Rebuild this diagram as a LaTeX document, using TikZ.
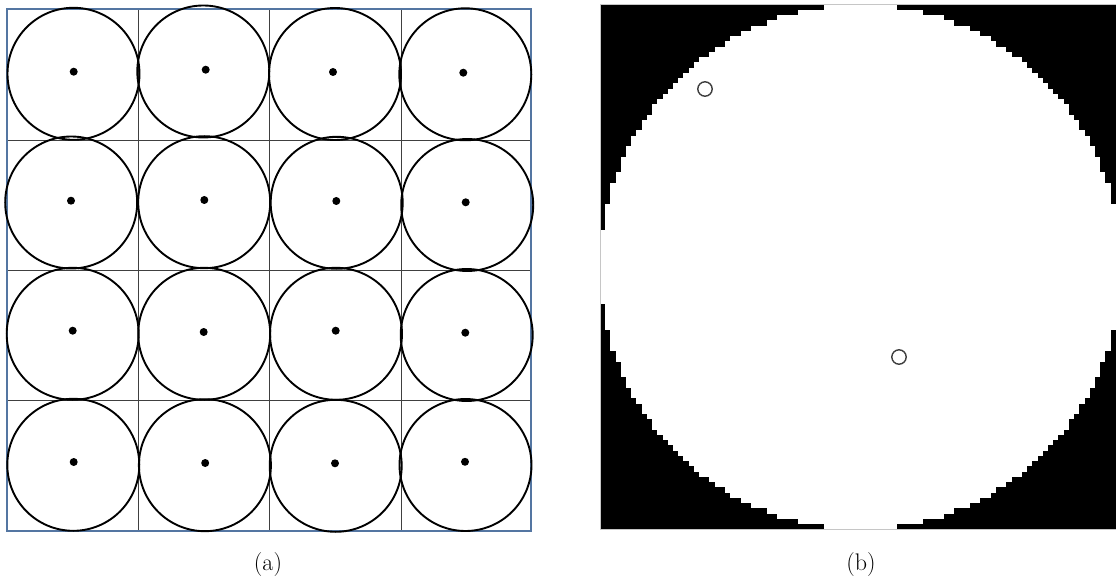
\documentclass[tikz,border=0pt]{standalone}
\begin{document}
\begin{tikzpicture}[x=1pt,y=-1pt,
  frame/.style={draw={rgb,255:red,84;green,118;blue,162}, line width=1.6pt},
  gridline/.style={draw=black!75, line width=1pt},
  ring/.style={draw=black, line width=1.9pt},
  dotm/.style={fill=black},
  hole/.style={draw=black!75, line width=1.4pt, fill=white},
  border/.style={draw=gray!45, line width=1pt},
  lab/.style={font=\fontsize{24}{29}\selectfont, inner sep=0pt}]
\clip (0,0) rectangle (1116,580);
\fill[white] (0,0) rectangle (1116,580);
% ---------- panel (a) ----------
\foreach \x in {138.5,269.7,401.5} \draw[gridline] (\x,9) -- (\x,531);
\foreach \y in {140.8,270.7,400.5} \draw[gridline] (7,\y) -- (531,\y);
\draw[frame] (7,9) rectangle (531,531);
\foreach \cx/\cy/\dx/\dy in {73.5/73.8/73.7/71.7, 203.3/71.5/205.7/69.7, 335/74/333/72, 465.3/74.3/463.3/72.7,
  71.2/202.5/71/200.7, 204.2/202.2/204.3/200, 336.7/202.8/336.3/201, 467.2/205/465.7/202.3,
  72.7/333.8/72.7/330.7, 204.2/333.8/203.7/332, 336/333.8/335.7/330.7, 466.7/335/465.3/332.7,
  73.3/464.8/73.7/462, 204.9/465.2/205.2/463, 335.7/465.8/335/463.3, 465.5/465/465/461.8}
{ \draw[ring] (\cx,\cy) circle[radius=66];
  \fill[dotm] (\dx,\dy) circle[radius=4]; }
% ---------- panel (b) ----------
\fill[black] (600,5) rectangle (1121,529);
\foreach \j in {0,...,99} {
  \pgfmathsetmacro\hw{round(sqrt(2500-(\j-49.5)^2))}
  \fill[white] ({600+(50-\hw)*5.21},{5+\j*5.24-0.3}) rectangle ({600+(50+\hw)*5.21},{5+(\j+1)*5.24+0.3});
}
\draw[border] (600,5) rectangle (1121,529);
\draw[hole] (705,89) circle[radius=7.2];
\draw[hole] (899,357) circle[radius=7.2];
% ---------- captions ----------
\node[lab] (la) at (268,565) {(a)};
\node[lab] (lb) at (861,565) {(b)};
\end{tikzpicture}
\end{document}
